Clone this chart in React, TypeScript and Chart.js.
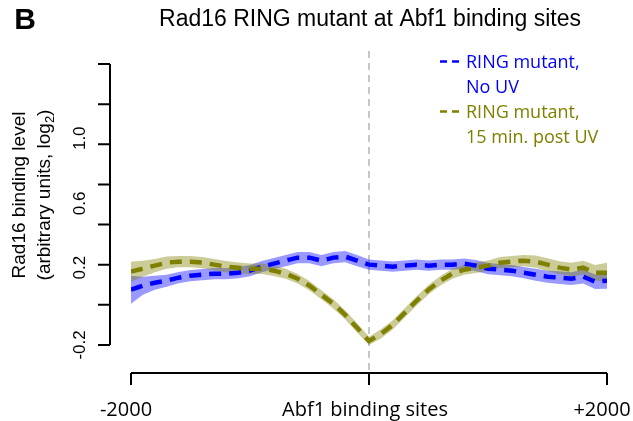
import React, { useEffect, useRef } from "react";
import { Chart, registerables } from "chart.js";

Chart.register(...registerables);

// Distance from Abf1 binding site (bp)
const positions = [
  -2000, -1900, -1800, -1700, -1600, -1500, -1400, -1300, -1200, -1100, -1000,
  -900, -800, -700, -600, -500, -400, -300, -200, -100, 0,
  100, 200, 300, 400, 500, 600, 700, 800, 900, 1000,
  1100, 1200, 1300, 1400, 1500, 1600, 1700, 1800, 1900, 2000,
];

// RING mutant, No UV
const noUvMean = [
  0.075, 0.095, 0.11, 0.12, 0.135, 0.145, 0.15, 0.155, 0.155, 0.16, 0.17,
  0.19, 0.205, 0.22, 0.235, 0.235, 0.22, 0.235, 0.24, 0.22, 0.2,
  0.195, 0.19, 0.195, 0.2, 0.195, 0.2, 0.2, 0.205, 0.195, 0.18,
  0.175, 0.17, 0.16, 0.15, 0.14, 0.135, 0.13, 0.14, 0.115, 0.12,
];
const noUvHalfBand = [
  0.07, 0.045, 0.035, 0.03, 0.028, 0.028, 0.028, 0.028, 0.028, 0.028, 0.028,
  0.028, 0.028, 0.028, 0.028, 0.028, 0.028, 0.028, 0.028, 0.028, 0.026,
  0.026, 0.026, 0.026, 0.026, 0.026, 0.026, 0.026, 0.026, 0.028, 0.028,
  0.028, 0.028, 0.028, 0.03, 0.03, 0.032, 0.032, 0.034, 0.036, 0.04,
];

// RING mutant, 15 min. post UV
const postUvMean = [
  0.165, 0.18, 0.195, 0.21, 0.215, 0.215, 0.21, 0.2, 0.19, 0.185, 0.18,
  0.18, 0.17, 0.155, 0.13, 0.095, 0.05, 0.005, -0.05, -0.115, -0.18,
  -0.145, -0.1, -0.04, 0.02, 0.075, 0.12, 0.155, 0.175, 0.185, 0.195,
  0.21, 0.215, 0.22, 0.215, 0.2, 0.185, 0.175, 0.185, 0.16, 0.16,
];
const postUvHalfBand = [
  0.05, 0.04, 0.033, 0.03, 0.028, 0.028, 0.028, 0.028, 0.028, 0.026, 0.026,
  0.026, 0.026, 0.025, 0.024, 0.024, 0.023, 0.023, 0.023, 0.023, 0.021,
  0.023, 0.023, 0.023, 0.023, 0.024, 0.024, 0.025, 0.025, 0.026, 0.026,
  0.028, 0.028, 0.028, 0.03, 0.032, 0.032, 0.034, 0.034, 0.038, 0.05,
];

const yTickValues = [-0.2, 0, 0.2, 0.4, 0.6, 0.8, 1.0, 1.2];
const yTickLabels = ["-0.2", "0.2", "0.6", "1.0"];
const yTickLabelAnchors = [-0.2, 0.185, 0.505, 0.83];
const xTickValues = [-2000, 0, 2000];
const xTickLabels = ["-2000", "+2000"];
const xTickLabelValues = [-2000, 2000];

const titleText = "Rad16 RING mutant at Abf1 binding sites";
const panelLetter = "B";
const xTitle = "Abf1 binding sites";
const yTitle1 = "Rad16 binding level";
const yTitle2a = "(arbitrary units, log";
const yTitle2sub = "2";
const yTitle2b = ")";
const legendEntries = [
  { lines: ["RING mutant,", "No UV"], color: "#0000ff" },
  { lines: ["RING mutant,", "15 min. post UV"], color: "#808000" },
];

const BLUE = "#0000ff";
const OLIVE = "#808000";
const BLUE_BAND = "rgba(0,0,255,0.4)";
const OLIVE_BAND = "rgba(128,128,0,0.4)";

const SANS = "'Liberation Sans', Arial, sans-serif";
const HUMAN = "'Open Sans', 'Noto Sans', sans-serif";

const toPts = (vals: number[]) => positions.map((p, i) => ({ x: p, y: vals[i] }));

const decorPlugin = {
  id: "decor",
  beforeDatasetsDraw(chart: any) {
    const { ctx, chartArea, scales } = chart;
    const x0 = scales.x.getPixelForValue(0);
    ctx.save();
    ctx.strokeStyle = "#b5b5b5";
    ctx.lineWidth = 1.5;
    ctx.setLineDash([7, 5]);
    ctx.beginPath();
    ctx.moveTo(x0, chartArea.top - 13);
    ctx.lineTo(x0, chartArea.bottom + 14);
    ctx.stroke();
    ctx.restore();
  },
  afterDraw(chart: any) {
    const { ctx, chartArea, scales } = chart;
    const xs = scales.x;
    const ys = scales.y;
    ctx.save();
    ctx.setLineDash([]);
    ctx.strokeStyle = "#000";
    ctx.fillStyle = "#000";
    ctx.lineWidth = 2;

    // Y axis (offset to the left of the plot)
    const axX = chartArea.left - 21;
    const yTop = ys.getPixelForValue(yTickValues[yTickValues.length - 1]);
    const yBot = ys.getPixelForValue(yTickValues[0]);
    ctx.beginPath();
    ctx.moveTo(axX, yTop);
    ctx.lineTo(axX, yBot);
    yTickValues.forEach((v) => {
      const py = ys.getPixelForValue(v);
      ctx.moveTo(axX, py);
      ctx.lineTo(axX - 12, py);
    });
    ctx.stroke();

    ctx.font = `17px ${SANS}`;
    ctx.textAlign = "center";
    ctx.textBaseline = "middle";
    yTickLabels.forEach((t, i) => {
      const py = ys.getPixelForValue(yTickLabelAnchors[i]);
      ctx.save();
      ctx.translate(80, py);
      ctx.rotate(-Math.PI / 2);
      ctx.fillText(t, 0, 0);
      ctx.restore();
    });

    // Y title
    const yMid = 195;
    ctx.font = `19px ${SANS}`;
    ctx.save();
    ctx.translate(20, yMid);
    ctx.rotate(-Math.PI / 2);
    ctx.fillText(yTitle1, 0, 0);
    ctx.restore();
    ctx.save();
    ctx.translate(45, yMid);
    ctx.rotate(-Math.PI / 2);
    ctx.font = `19px ${SANS}`;
    const wA = ctx.measureText(yTitle2a).width;
    const wB = ctx.measureText(yTitle2b).width;
    ctx.font = `13px ${SANS}`;
    const wS = ctx.measureText(yTitle2sub).width;
    const total = wA + wS + wB;
    ctx.textAlign = "left";
    ctx.font = `19px ${SANS}`;
    ctx.fillText(yTitle2a, -total / 2, 0);
    ctx.font = `13px ${SANS}`;
    ctx.fillText(yTitle2sub, -total / 2 + wA, 5);
    ctx.font = `19px ${SANS}`;
    ctx.fillText(yTitle2b, -total / 2 + wA + wS, 0);
    ctx.restore();

    // X axis
    const axY = chartArea.bottom;
    ctx.beginPath();
    ctx.moveTo(xs.getPixelForValue(xTickValues[0]), axY);
    ctx.lineTo(xs.getPixelForValue(xTickValues[xTickValues.length - 1]), axY);
    xTickValues.forEach((v) => {
      const px = xs.getPixelForValue(v);
      ctx.moveTo(px, axY);
      ctx.lineTo(px, axY + 12);
    });
    ctx.stroke();

    ctx.font = `20px ${HUMAN}`;
    ctx.textAlign = "center";
    ctx.textBaseline = "middle";
    const offs = [-5, -5];
    xTickLabels.forEach((t, i) => {
      ctx.fillText(t, xs.getPixelForValue(xTickLabelValues[i]) + offs[i], 410);
    });
    ctx.fillText(xTitle, 365, 410);

    // Title and panel letter
    ctx.font = `23px ${SANS}`;
    ctx.fillText(titleText, 370, 20);
    ctx.font = `bold 30px ${SANS}`;
    ctx.fillText(panelLetter, 25, 21);

    // Legend
    ctx.font = `18px ${HUMAN}`;
    ctx.textAlign = "left";
    ctx.textBaseline = "alphabetic";
    let baseY = 68;
    legendEntries.forEach((e) => {
      ctx.fillStyle = e.color;
      ctx.strokeStyle = e.color;
      ctx.lineWidth = 2.5;
      ctx.beginPath();
      ctx.moveTo(440, baseY - 6.5);
      ctx.lineTo(447, baseY - 6.5);
      ctx.moveTo(452, baseY - 6.5);
      ctx.lineTo(459, baseY - 6.5);
      ctx.stroke();
      e.lines.forEach((ln, j) => {
        ctx.fillText(ln, 466, baseY + j * 25);
      });
      baseY += 50;
    });
    ctx.restore();
  },
};

export default function App() {
  const ref = useRef<HTMLCanvasElement | null>(null);
  useEffect(() => {
    if (!ref.current) return;
    const chart = new Chart(ref.current, {
      type: "line",
      data: {
        datasets: [
          {
            label: "noUvLow",
            data: toPts(noUvMean.map((m, i) => m - noUvHalfBand[i])),
            borderWidth: 0,
            pointRadius: 0,
            fill: false,
            order: 10,
          },
          {
            label: "noUvHigh",
            data: toPts(noUvMean.map((m, i) => m + noUvHalfBand[i])),
            borderWidth: 0,
            pointRadius: 0,
            backgroundColor: BLUE_BAND,
            fill: "-1",
            order: 10,
          },
          {
            label: "postUvLow",
            data: toPts(postUvMean.map((m, i) => m - postUvHalfBand[i])),
            borderWidth: 0,
            pointRadius: 0,
            fill: false,
            order: 9,
          },
          {
            label: "postUvHigh",
            data: toPts(postUvMean.map((m, i) => m + postUvHalfBand[i])),
            borderWidth: 0,
            pointRadius: 0,
            backgroundColor: OLIVE_BAND,
            fill: "-1",
            order: 9,
          },
          {
            label: "RING mutant, No UV",
            data: toPts(noUvMean),
            borderColor: BLUE,
            borderWidth: 4.5,
            borderDash: [12, 8],
            pointRadius: 0,
            fill: false,
            order: 2,
          },
          {
            label: "RING mutant, 15 min. post UV",
            data: toPts(postUvMean),
            borderColor: OLIVE,
            borderWidth: 4.5,
            borderDash: [12, 8],
            pointRadius: 0,
            fill: false,
            order: 1,
          },
        ],
      },
      options: {
        responsive: false,
        animation: false,
        devicePixelRatio: 1,
        layout: { padding: { left: 131, right: 26, top: 64, bottom: 48 } },
        scales: {
          x: { type: "linear", min: -2000, max: 2000, display: false },
          y: { type: "linear", min: -0.34, max: 1.2, display: false },
        },
        plugins: {
          legend: { display: false },
          tooltip: { enabled: false },
          title: { display: false },
        },
      },
      plugins: [decorPlugin],
    });
    return () => chart.destroy();
  }, []);
  return (
    <div style={{ position: "fixed", left: 0, top: 0, width: 633, height: 421, background: "#fff" }}>
      <canvas ref={ref} width={633} height={421} />
    </div>
  );
}
